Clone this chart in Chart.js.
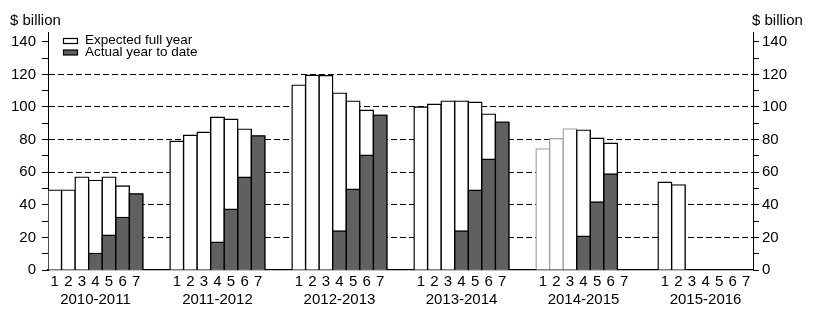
<!DOCTYPE html>
<html>
<head>
<meta charset="utf-8">
<script src="https://cdn.jsdelivr.net/npm/chart.js@4.4.1/dist/chart.umd.min.js"></script>
<style>
  html, body { margin: 0; padding: 0; background: #ffffff; }
  #wrap { width: 816px; height: 313px; }
</style>
</head>
<body>
<div id="wrap"><canvas id="chart" width="816" height="313"></canvas></div>
<script>
// ---------------- data ----------------
const years = ['2010-2011', '2011-2012', '2012-2013', '2013-2014', '2014-2015', '2015-2016'];
const positions = ['1', '2', '3', '4', '5', '6', '7'];

// Expected full year ($ billion), positions 1-7 in each year
const expected2010 = [49, 49, 57, 55, 57, 51.5, 46.7];
const expected2011 = [79, 82.7, 84.5, 93.7, 92.5, 86.4, 82.3];
const expected2012 = [113.4, 119.5, 119.3, 108.5, 103.6, 98, 95];
const expected2013 = [100, 101.7, 103.6, 103.6, 102.9, 95.6, 90.7];
const expected2014 = [74.3, 80.6, 86.6, 85.8, 80.8, 77.8, null];
const expected2015 = [53.8, 52.2, null, null, null, null, null];

// Actual year to date ($ billion)
const actual2010 = [null, null, null, 10.2, 21.3, 32.3, 46.7];
const actual2011 = [null, null, null, 17, 37.3, 56.9, 82.3];
const actual2012 = [null, null, null, 23.9, 49.5, 70.4, 95];
const actual2013 = [null, null, null, 23.9, 48.9, 67.9, 90.7];
const actual2014 = [null, null, null, 20.7, 41.7, 58.9, null];
const actual2015 = [null, null, null, null, null, null, null];

const seriesNames = ['Expected full year', 'Actual year to date'];
const unitLabel = '$ billion';
const yTickValues = [0, 10, 20, 30, 40, 50, 60, 70, 80, 90, 100, 110, 120, 130, 140];
const yLabelledValues = [0, 20, 40, 60, 80, 100, 120, 140];
const yGridValues = [20, 40, 60, 80, 100, 120];
// expected bars drawn with a grey outline
const greyOutlined = { '2014-2015': ['1', '2', '3'] };

// ---------------- build category table ----------------
const expectedByYear = [expected2010, expected2011, expected2012, expected2013, expected2014, expected2015];
const actualByYear = [actual2010, actual2011, actual2012, actual2013, actual2014, actual2015];
const GAP_SLOTS = 2;

const labels = [];
const expectedData = [];
const actualData = [];
const expectedBorder = [];
years.forEach((yr, gi) => {
  positions.forEach((p, pi) => {
    labels.push(pi === 3 ? [p, yr] : p);
    expectedData.push(expectedByYear[gi][pi]);
    actualData.push(actualByYear[gi][pi]);
    const grey = greyOutlined[yr] && greyOutlined[yr].includes(p);
    expectedBorder.push(grey ? '#a3a3a3' : '#000000');
  });
  if (gi < years.length - 1) {
    for (let k = 0; k < GAP_SLOTS; k++) {
      labels.push('');
      expectedData.push(null);
      actualData.push(null);
      expectedBorder.push('#000000');
    }
  }
});

// ---------------- chart ----------------
const FONT = '"Liberation Sans", Arial, Helvetica, sans-serif';
Chart.defaults.font.family = FONT;
Chart.defaults.color = '#000000';

const overlayPlugin = {
  id: 'overlayText',
  afterDraw(chart) {
    const { ctx, chartArea, scales } = chart;
    ctx.save();
    ctx.fillStyle = '#000000';
    ctx.textAlign = 'left';
    ctx.textBaseline = 'alphabetic';
    ctx.font = '15px ' + FONT;
    ctx.fillText(unitLabel, scales.y.left + 2, chartArea.top - 7);
    ctx.fillText(unitLabel, scales.y2.left - 1, chartArea.top - 7);

    // legend (in-plot, top-left)
    const legendOrder = [1, 0];
    const bx = Math.round(chartArea.left + 15) + 0.5;
    let by = Math.round(chartArea.top + 6) + 0.5;
    ctx.font = '13.5px ' + FONT;
    legendOrder.forEach((di) => {
      const ds = chart.data.datasets[di];
      ctx.fillStyle = ds.backgroundColor;
      ctx.fillRect(bx, by, 14, 5);
      ctx.strokeStyle = '#000000';
      ctx.lineWidth = 1.2;
      ctx.strokeRect(bx, by, 14, 5);
      ctx.fillStyle = '#000000';
      ctx.fillText(ds.label, bx + 21.5, by + 5.5);
      by += 11.5;
    });
    ctx.restore();
  }
};

const yScaleCommon = {
  type: 'linear',
  min: 0,
  max: 146,
  afterBuildTicks: (scale) => { scale.ticks = yTickValues.map(v => ({ value: v })); },
  afterFit: (scale) => { scale.width = 40; },
  ticks: {
    autoSkip: false,
    color: '#000000',
    font: { size: 15 },
    callback: (v) => (yLabelledValues.includes(v) ? String(v) : '')
  },
  border: { display: true, color: '#000000', width: 1, dash: [6, 3] }
};

const barCommon = {
  borderWidth: 1.4,
  inflateAmount: 0.7,
  grouped: false,
  barPercentage: 1,
  categoryPercentage: 1,
  yAxisID: 'y'
};

new Chart(document.getElementById('chart'), {
  type: 'bar',
  data: {
    labels: labels,
    datasets: [
      Object.assign({
        label: seriesNames[1],
        data: actualData,
        backgroundColor: '#606060',
        borderColor: '#000000',
        order: 1
      }, barCommon),
      Object.assign({
        label: seriesNames[0],
        data: expectedData,
        backgroundColor: '#ffffff',
        borderColor: expectedBorder,
        order: 2
      }, barCommon)
    ]
  },
  options: {
    responsive: false,
    animation: false,
    devicePixelRatio: 1,
    layout: { padding: { left: 8, right: 23, top: 32, bottom: 0 } },
    plugins: {
      legend: { display: false },
      tooltip: { enabled: false },
      title: { display: false }
    },
    scales: {
      x: {
        type: 'category',
        offset: true,
        z: 1,
        afterFit: (scale) => { scale.height = 43; },
        grid: { display: false, drawTicks: false },
        border: { display: true, color: '#000000', width: 1.2 },
        ticks: {
          autoSkip: false,
          maxRotation: 0,
          minRotation: 0,
          padding: 2,
          color: '#000000',
          font: { size: 15, lineHeight: 1.25 }
        }
      },
      y: Object.assign({}, yScaleCommon, {
        position: 'left',
        grid: {
          display: true,
          drawOnChartArea: true,
          drawTicks: true,
          tickLength: 6,
          tickColor: '#000000',
          tickWidth: 1,
          lineWidth: 1,
          color: (ctx) => (ctx.tick && yGridValues.includes(ctx.tick.value) ? '#000000' : 'rgba(0,0,0,0)')
        },
        ticks: Object.assign({}, yScaleCommon.ticks, { padding: 6 })
      }),
      y2: Object.assign({}, yScaleCommon, {
        position: 'right',
        grid: {
          display: true,
          drawOnChartArea: false,
          drawTicks: true,
          tickLength: 6,
          tickColor: '#000000',
          tickWidth: 1,
          color: 'rgba(0,0,0,0)'
        },
        ticks: Object.assign({}, yScaleCommon.ticks, { padding: 3 })
      })
    }
  },
  plugins: [overlayPlugin]
});
</script>
</body>
</html>
